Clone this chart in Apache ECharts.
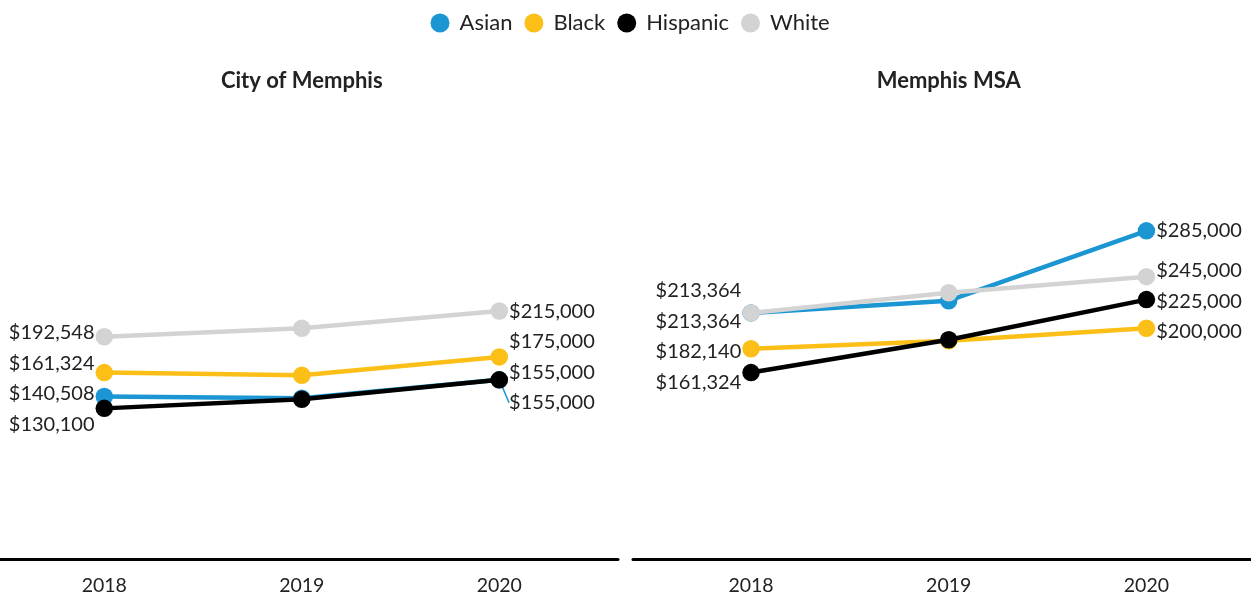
<!DOCTYPE html>
<html>
<head>
<meta charset="utf-8">
<title>Median home value by race, Memphis</title>
<script src="https://cdn.jsdelivr.net/npm/echarts@6/dist/echarts.min.js"></script>
<style>
  html, body { margin: 0; padding: 0; background: #fff; }
  #chart { width: 1251px; height: 597px; }
</style>
</head>
<body>
<div id="chart"></div>
<script>
// Years on the x axis
const years = ['2018', '2019', '2020'];
// Race / ethnicity groups and their colours
const groups = ['Asian', 'Black', 'Hispanic', 'White'];
const groupColors = ['#1b96d3', '#fcbf18', '#000000', '#d3d3d3'];
const panelTitles = ['City of Memphis', 'Memphis MSA'];

// City of Memphis, median value (USD)
const cityAsian = [140508, 139000, 155000];
const cityBlack = [161324, 159000, 175000];
const cityHispanic = [130100, 138000, 155000];
const cityWhite = [192548, 200000, 215000];

// Memphis MSA, median value (USD)
const msaAsian = [213364, 224000, 285000];
const msaBlack = [182140, 189000, 200000];
const msaHispanic = [161324, 190000, 225000];
const msaWhite = [213364, 231000, 245000];

const panelValues = [
  [cityAsian, cityBlack, cityHispanic, cityWhite],
  [msaAsian, msaBlack, msaHispanic, msaWhite]
];

const FONT = 'Lato, "Noto Sans", sans-serif';
const TEXT = '#222222';
const LABEL_GAP = 30.5;       // minimum vertical spacing between end labels
const LEADER_MIN = 22;        // show a guide line when a label is pushed this far

// Panel frames: each panel gets its own grid; the x range leaves room for end labels
const frames = [
  { left: 0, width: 618, xMin: 2017.472, xMax: 2020.601 },
  { left: 633, width: 618, xMin: 2017.403, xMax: 2020.529 }
];

const yearNums = years.map(Number);
const money = v => '$' + v.toLocaleString('en-US');

function buildSeries(offsets) {
  const out = [];
  panelValues.forEach((vals, p) => {
    vals.forEach((arr, g) => {
      out.push({
        name: groups[g],
        type: 'line',
        xAxisIndex: p,
        yAxisIndex: p,
        symbol: 'circle',
        symbolSize: 17.5,
        showSymbol: true,
        color: groupColors[g],
        lineStyle: { width: 4.5, color: groupColors[g] },
        itemStyle: { color: groupColors[g] },
        emphasis: { disabled: true },
        z: 2 + g,
        data: arr.map((v, i) => {
          const item = { value: [yearNums[i], v] };
          const isFirst = i === 0, isLast = i === arr.length - 1;
          if (isFirst || isLast) {
            const dy = offsets ? offsets[p][g][i] : 0;
            item.label = {
              show: true,
              position: isFirst ? 'left' : 'right',
              distance: 1,
              offset: [0, dy],
              formatter: p2 => money(p2.value[1]),
              color: TEXT,
              fontFamily: FONT,
              fontSize: 20
            };
            if (Math.abs(dy) > LEADER_MIN) {
              item.labelLine = {
                show: true,
                length2: 0,
                lineStyle: { color: groupColors[g], width: 1.5 }
              };
            }
          }
          return item;
        })
      });
    });
  });
  return out;
}

function baseOption(offsets, titleX) {
  return {
    animation: false,
    backgroundColor: '#ffffff',
    textStyle: { fontFamily: FONT, color: TEXT },
    legend: {
      top: 12,
      left: 430.5,
      padding: 0,
      icon: 'circle',
      itemWidth: 29,
      itemHeight: 19,
      itemGap: 12,
      data: groups,
      selectedMode: false,
      textStyle: { fontFamily: FONT, fontSize: 22, color: TEXT }
    },
    title: panelTitles.map((t, p) => ({
      text: t,
      left: titleX ? titleX[p] : frames[p].left + frames[p].width / 2,
      top: 70,
      padding: 0,
      textAlign: 'center',
      textStyle: { fontFamily: FONT, fontSize: 22, fontWeight: 'bold', color: TEXT }
    })),
    grid: frames.map(f => ({ left: f.left, width: f.width, top: 99, bottom: 39.5, containLabel: false })),
    xAxis: frames.map((f, p) => ({
      type: 'value',
      gridIndex: p,
      min: f.xMin,
      max: f.xMax,
      offset: 1.5,
      splitLine: { show: false },
      axisTick: { show: false },
      axisLine: { show: true, onZero: false, lineStyle: { color: '#000', width: 3 } },
      axisLabel: {
        customValues: yearNums,
        formatter: v => String(v),
        margin: 17,
        fontFamily: FONT,
        fontSize: 19.5,
        color: TEXT
      }
    })),
    yAxis: frames.map((f, p) => ({
      type: 'value',
      gridIndex: p,
      min: 0,
      max: 400000,
      show: false,
      splitLine: { show: false }
    })),
    series: buildSeries(offsets)
  };
}

const chart = echarts.init(document.getElementById('chart'), null, { renderer: 'canvas' });
chart.setOption(baseOption(null, null));

// Spread the start/end labels of each panel so they do not collide:
// overlapping labels form clusters centred on the mean of their points.
function spread(items) {
  items.sort((a, b) => (a.py - b.py) || (b.g - a.g));
  let clusters = items.map(it => ({ members: [it], mean: it.py }));
  let merged = true;
  while (merged) {
    merged = false;
    for (let i = 0; i < clusters.length - 1; i++) {
      const a = clusters[i], b = clusters[i + 1];
      const aBottom = a.mean + (a.members.length - 1) / 2 * LABEL_GAP;
      const bTop = b.mean - (b.members.length - 1) / 2 * LABEL_GAP;
      if (bTop - aBottom < LABEL_GAP) {
        const members = a.members.concat(b.members);
        const mean = members.reduce((s, m) => s + m.py, 0) / members.length;
        clusters.splice(i, 2, { members, mean });
        merged = true;
        break;
      }
    }
  }
  clusters.forEach(c => c.members.forEach((m, k) => {
    m.ly = c.mean + (k - (c.members.length - 1) / 2) * LABEL_GAP;
  }));
}

const offsets = panelValues.map(vals => vals.map(arr => arr.map(() => 0)));
panelValues.forEach((vals, p) => {
  [0, years.length - 1].forEach(i => {
    const items = vals.map((arr, g) => ({
      g,
      py: chart.convertToPixel({ gridIndex: p }, [yearNums[i], arr[i]])[1]
    }));
    spread(items);
    items.forEach(it => { offsets[p][it.g][i] = it.ly - it.py; });
  });
});

const mid = Math.floor(years.length / 2);
const titleX = panelValues.map((v, p) => chart.convertToPixel({ gridIndex: p }, [yearNums[mid], 0])[0]);

chart.setOption(baseOption(offsets, titleX), true);
</script>
</body>
</html>
